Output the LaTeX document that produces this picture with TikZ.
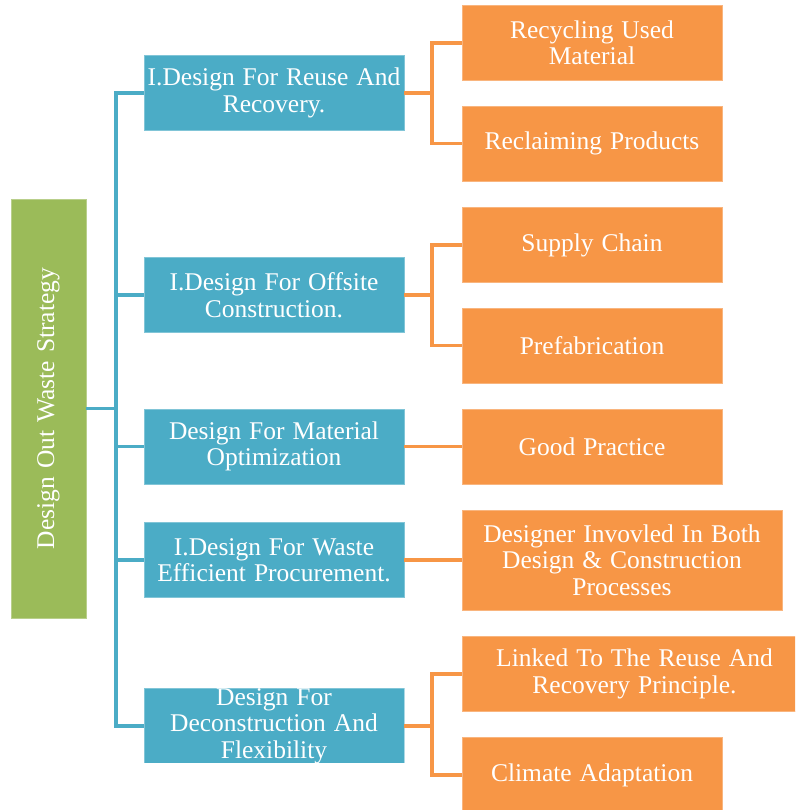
\documentclass[tikz,border=0pt]{standalone}
\usepackage{fontspec}
\setmainfont{Liberation Serif}[WordSpace=1.25]
\definecolor{bl}{HTML}{4BACC6}
\definecolor{orng}{HTML}{F79646}
\definecolor{grn}{HTML}{9BBB59}
\begin{document}
\begin{tikzpicture}[x=1pt,y=-1pt,
  txt/.style={text=white,align=center,inner sep=0pt,font=\fontsize{25.5}{26.5}\selectfont},
  bbox/.style={txt,fill=bl,draw=bl!70!white,line width=0.8pt,minimum width=260pt,minimum height=75pt},
  obox/.style={txt,fill=orng,draw=orng!70!white,line width=0.8pt,minimum width=260pt,minimum height=75pt},
  gbox/.style={txt,fill=grn,draw=grn!70!white,line width=0.8pt,minimum width=419pt,minimum height=75pt,rotate=90},
  bline/.style={draw=bl,line width=3.5pt},
  oline/.style={draw=orng,line width=3.5pt}]
\useasboundingbox (0,0) rectangle (795,810);
\clip (0,0) rectangle (795,810);
% root
\node[gbox] (g) at (48.5,408.5) {Design Out Waste Strategy};
% level 1
\node[bbox] (b1) at (274,93) {I.Design For Reuse And\\Recovery.};
\node[bbox] (b2) at (274,295) {I.Design For Offsite\\Construction.};
\node[bbox] (b3) at (274,446.5) {Design For Material\\Optimization};
\node[bbox] (b4) at (274,560) {I.Design For Waste\\Efficient Procurement.};
\begin{scope}
\clip (144,687) rectangle (404.5,762.5);
\node[bbox] (b5) at (274,726) {Design For\\Deconstruction And\\Flexibility};
\end{scope}
% level 2
\node[obox] (o1) at (592,43) {Recycling Used\\Material};
\node[obox] (o2) at (592,143.5) {Reclaiming Products};
\node[obox] (o3) at (592,245) {Supply Chain};
\node[obox] (o4) at (592,345.5) {Prefabrication};
\node[obox] (o5) at (592,446.5) {Good Practice};
\node[obox,minimum width=320pt,minimum height=100pt] (o6) at (622,560) {Designer Invovled In Both\\Design \& Construction\\Processes};
\node[obox,minimum width=345pt,minimum height=75pt] (o7) at (634.5,674) {Linked To The Reuse And\\Recovery Principle.};
\node[obox,minimum width=260pt,minimum height=75pt] (o8) at (592,775) {Climate Adaptation};
% blue connectors
\coordinate (tk) at (116,408.5);
\coordinate (ox) at (432,0);
\draw[bline] (g.south) -- (tk);
\draw[bline] (b1.west) -- (b1.west -| tk) -- (b5.west -| tk) -- (b5.west);
\draw[bline] (b2.west) -- (b2.west -| tk);
\draw[bline] (b3.west) -- (b3.west -| tk);
\draw[bline] (b4.west) -- (b4.west -| tk);
% orange connectors
\draw[oline] (b1.east) -- (b1.east -| ox);
\draw[oline] (o1.west) -- (o1.west -| ox) -- (o2.west -| ox) -- (o2.west);
\draw[oline] (b2.east) -- (b2.east -| ox);
\draw[oline] (o3.west) -- (o3.west -| ox) -- (o4.west -| ox) -- (o4.west);
\draw[oline] (b3.east) -- (o5.west);
\draw[oline] (b4.east) -- (o6.west);
\draw[oline] (b5.east) -- (b5.east -| ox);
\draw[oline] (o7.west) -- (o7.west -| ox) -- (o8.west -| ox) -- (o8.west);
\end{tikzpicture}
\end{document}
